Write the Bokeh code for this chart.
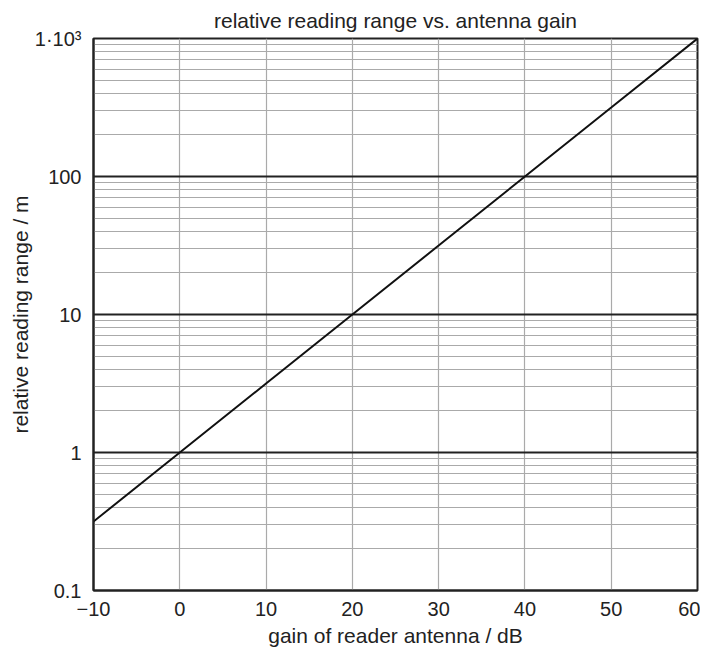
from bokeh.plotting import figure
from bokeh.models import ColumnDataSource, LogTicker, FixedTicker, CustomJSTickFormatter
from bokeh.embed import file_html
from bokeh.resources import INLINE

# data
gain_db = [-10, 0, 10, 20, 30, 40, 50, 60]
reading_range_m = [0.316, 1.0, 3.16, 10.0, 31.6, 100.0, 316.0, 1000.0]
x_ticks = [-10, 0, 10, 20, 30, 40, 50, 60]
y_ticks = [0.1, 1, 10, 100, 1000]
title_text = "relative reading range vs. antenna gain"

FONT = "Liberation Sans"
TXT = "#222222"
FS_TICK = "20px"
FS_LABEL = "21px"

p = figure(width=700, height=650, y_axis_type="log",
           x_range=(-10, 60), y_range=(0.1, 1000),
           output_backend="svg", toolbar_location=None,
           title=title_text,
           min_border_left=93, min_border_right=3,
           min_border_top=38, min_border_bottom=60)

p.title.align = "center"
p.title.vertical_align = "top"
p.title.text_font = FONT
p.title.text_font_size = FS_LABEL
p.title.text_font_style = "normal"
p.title.text_color = TXT
p.title.offset = 0
p.title.standoff = 9

src = ColumnDataSource(dict(x=gain_db, y=reading_range_m))
p.line("x", "y", source=src, line_color="#111111", line_width=2)

# axes
p.xaxis.ticker = FixedTicker(ticks=x_ticks)
p.xaxis.formatter = CustomJSTickFormatter(code="return tick < 0 ? '\u2212' + Math.abs(tick) : String(tick);")
p.yaxis.ticker = LogTicker(num_minor_ticks=10)
p.yaxis.formatter = CustomJSTickFormatter(code="""
const e = Math.round(Math.log10(tick));
if (e == 3) return '1\u00b710\u00b3';
if (e == -1) return '0.1';
return String(Math.round(Math.pow(10, e)));
""")

for ax in (p.xaxis[0], p.yaxis[0]):
    ax.major_tick_line_color = None
    ax.minor_tick_line_color = None
    ax.axis_line_color = "#222222"
    ax.axis_line_width = 2
    ax.major_label_text_font = FONT
    ax.major_label_text_font_size = FS_TICK
    ax.major_label_text_color = TXT
    ax.axis_label_text_font = FONT
    ax.axis_label_text_font_size = FS_LABEL
    ax.axis_label_text_font_style = "normal"
    ax.axis_label_text_color = TXT

p.xaxis.axis_label = "gain of reader antenna / dB"
p.yaxis.axis_label = "relative reading range / m"
p.xaxis.major_label_standoff = 5
p.yaxis.major_label_standoff = 6
p.xaxis.axis_label_standoff = 5
p.yaxis.axis_label_standoff = 0

# grids
p.xgrid.grid_line_color = "#aaaaaa"
p.xgrid.grid_line_width = 1.2
p.ygrid.grid_line_color = "#222222"
p.ygrid.grid_line_width = 2
p.ygrid.minor_grid_line_color = "#aaaaaa"
p.ygrid.minor_grid_line_width = 1.2

p.outline_line_color = "#222222"
p.outline_line_width = 2
p.background_fill_color = "white"
p.border_fill_color = "white"

open("out.html", "w").write(file_html(p, INLINE))
